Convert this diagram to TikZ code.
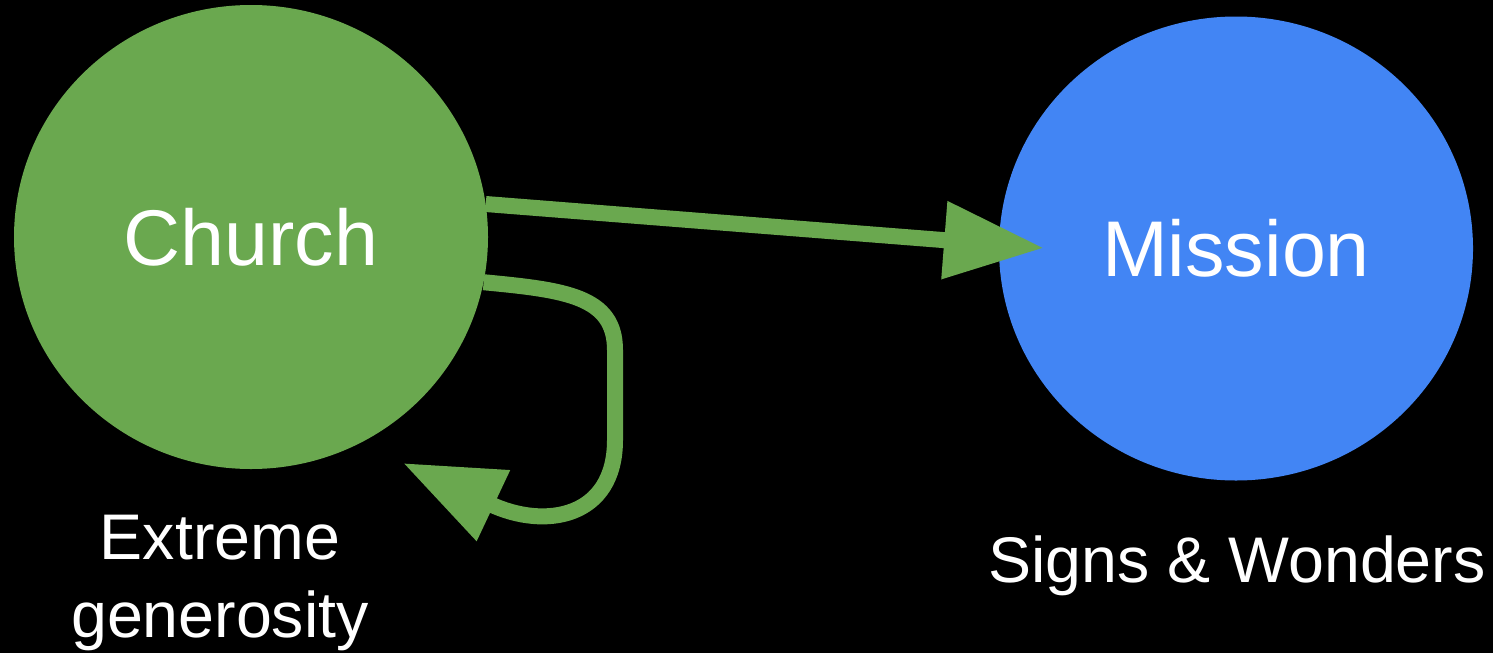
\documentclass[tikz,border=0pt]{standalone}
\usepackage{fontspec}
\setmainfont{Liberation Sans}
\usetikzlibrary{arrows.meta,shapes.geometric}
\definecolor{cgreen}{HTML}{6AA84F}
\definecolor{cblue}{HTML}{4285F4}
\begin{document}
\begin{tikzpicture}[x=1pt,y=-1pt,
  blob/.style={ellipse,minimum width=474pt,minimum height=464pt,inner sep=0pt,text=white,font=\fontsize{79}{90}\selectfont},
  lbl/.style={text=white,inner sep=0pt,font=\fontsize{64.5}{78}\selectfont,align=center},
  arr/.style={draw=cgreen,line width=16pt,-{Triangle[length=100pt,width=74pt,fill=cgreen]}}]
\fill[black] (0,0) rectangle (1493,653);
\useasboundingbox (0,0) rectangle (1493,653);
\node[blob,fill=cgreen] (church) at (251,237) {Church};
\node[blob,fill=cblue] (mission) at (1236,248.5) {Mission};
\coordinate (mtip) at (1044,248);
\coordinate (looptip) at (403,463);
\draw[arr] (church.8) -- (mtip);
\draw[arr] (church.-11) .. controls (565,290) and (615,296) .. (615,350) -- (615,440) .. controls (615,518) and (545,530) .. (looptip);
\node[lbl,anchor=north] (gen) at (220,515) {Extreme\\generosity};
\node[lbl,anchor=base] (signs) at (1237,582) {Signs \& Wonders};
\end{tikzpicture}
\end{document}
